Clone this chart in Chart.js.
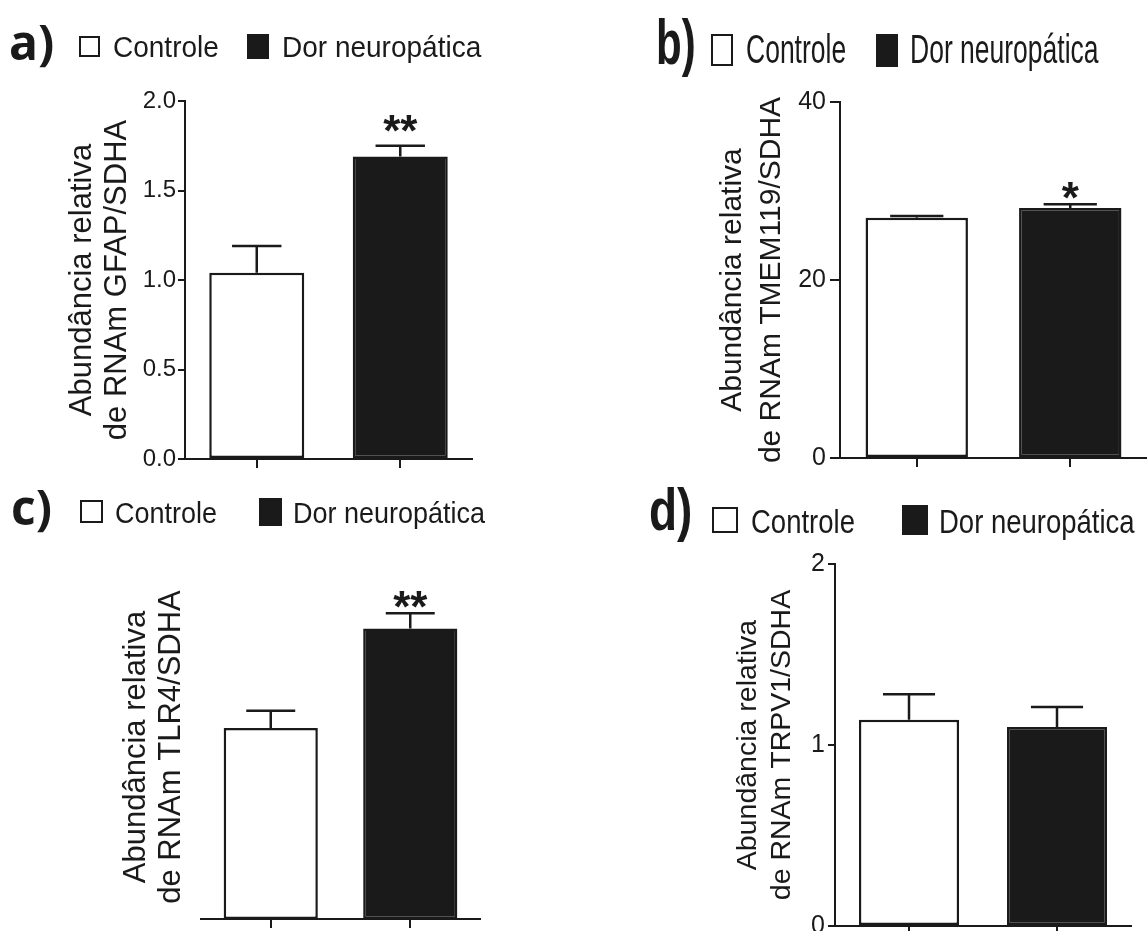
<!DOCTYPE html>
<html lang="pt">
<head>
<meta charset="utf-8">
<title>Abundância relativa de RNAm</title>
<script src="https://cdn.jsdelivr.net/npm/chart.js@4.4.1/dist/chart.umd.min.js"></script>
<style>
  html, body { margin: 0; padding: 0; background: #fff; }
  body { width: 1147px; height: 931px; overflow: hidden; position: relative; }
  canvas { position: absolute; }
</style>
</head>
<body>
<canvas id="chartA" width="560" height="480" style="left:0;top:0"></canvas>
<canvas id="chartB" width="567" height="480" style="left:580px;top:0"></canvas>
<canvas id="chartC" width="560" height="461" style="left:0;top:470px"></canvas>
<canvas id="chartD" width="567" height="480" style="left:580px;top:470px"></canvas>
<script>
// Grupos
const categories = ['Controle', 'Dor neuropática'];

// a) GFAP
const gfapMean = [1.04, 1.69];
const gfapSem = [0.15, 0.06];
const gfapSig = ['', '**'];
const gfapTicks = [0, 0.5, 1.0, 1.5, 2.0];

// b) TMEM119
const tmemMean = [27.0, 28.1];
const tmemSem = [0.2, 0.4];
const tmemSig = ['', '*'];
const tmemTicks = [0, 20, 40];

// c) TLR4 (sem escala visivel no original)
const tlrMean = [1.0, 1.52];
const tlrSem = [0.09, 0.08];
const tlrSig = ['', '**'];

// d) TRPV1
const trpvMean = [1.14, 1.10];
const trpvSem = [0.14, 0.11];
const trpvSig = ['', ''];
const trpvTicks = [0, 1, 2];

const INK = '#1a1a1a';
const SANS = '"Liberation Sans", Arial, sans-serif';

// Texto com esticamento vertical (os paineis originais estao deformados)
function stretchedText(ctx, text, x, y, font, sy) {
    ctx.save();
    ctx.font = font;
    ctx.translate(x, y);
    ctx.scale(1, sy);
    ctx.fillText(text, 0, 0);
    ctx.restore();
}

// Barras de erro (so para cima) + asteriscos
function errorBars(mean, sem, sig, gap) {
    return {
        id: 'errorBars',
        afterDatasetsDraw(chart) {
            const ctx = chart.ctx;
            const y = chart.scales.y;
            const meta = chart.getDatasetMeta(0);
            ctx.save();
            ctx.strokeStyle = INK;
            ctx.fillStyle = INK;
            ctx.lineWidth = 2.5;
            meta.data.forEach((bar, i) => {
                const top = y.getPixelForValue(mean[i] + sem[i]);
                const half = bar.width * 0.26;
                ctx.beginPath();
                ctx.moveTo(bar.x, bar.y);
                ctx.lineTo(bar.x, top);
                ctx.moveTo(bar.x - half, top);
                ctx.lineTo(bar.x + half, top);
                ctx.stroke();
                if (sig[i]) {
                    ctx.font = 'bold 44px ' + SANS;
                    ctx.textAlign = 'center';
                    ctx.textBaseline = 'alphabetic';
                    const m = ctx.measureText('*');
                    const cy = top - gap;
                    const base = cy + (m.actualBoundingBoxAscent - m.actualBoundingBoxDescent) / 2;
                    ctx.fillText(sig[i], bar.x, base);
                }
            });
            ctx.restore();
        }
    };
}

// Letra do painel + legenda
function decor(d) {
    return {
        id: 'decor',
        afterDraw(chart) {
            const ctx = chart.ctx;
            ctx.save();
            ctx.fillStyle = INK;
            ctx.textAlign = 'left';
            ctx.textBaseline = 'alphabetic';
            stretchedText(ctx, d.letter, d.letterX, d.letterY, d.letterFont, d.letterSy);
            ctx.lineWidth = 2;
            ctx.strokeStyle = INK;
            d.boxes.forEach((b, i) => {
                if (i === 0) {
                    ctx.fillStyle = '#fff';
                    ctx.fillRect(b[0], b[1], b[2], b[3]);
                    ctx.strokeRect(b[0] + 1, b[1] + 1, b[2] - 2, b[3] - 2);
                } else {
                    ctx.fillStyle = INK;
                    ctx.fillRect(b[0], b[1], b[2], b[3]);
                }
                ctx.fillStyle = INK;
                stretchedText(ctx, categories[i], d.textX[i], d.textY, d.textSize + 'px ' + SANS, d.textSy);
            });
            ctx.restore();
        }
    };
}

function buildPanel(id, p) {
    const ctx = document.getElementById(id).getContext('2d');
    new Chart(ctx, {
        type: 'bar',
        data: {
            labels: categories,
            datasets: [{
                data: p.mean,
                backgroundColor: ['#ffffff', INK],
                borderColor: INK,
                borderWidth: 2.5,
                borderSkipped: false,
                barPercentage: p.barPct,
                categoryPercentage: 1
            }]
        },
        options: {
            responsive: false,
            animation: false,
            devicePixelRatio: 1,
            layout: { padding: { left: 0, top: p.padTop, right: p.padRight, bottom: 0 } },
            plugins: {
                legend: { display: false },
                tooltip: { enabled: false }
            },
            scales: {
                x: {
                    grid: { display: true, drawOnChartArea: false, offset: false, color: INK, lineWidth: 2, tickLength: 9 },
                    border: { display: true, color: INK, width: 2 },
                    ticks: { display: false },
                    afterFit: s => { s.height = p.xHeight; }
                },
                y: {
                    min: 0,
                    max: p.yMax,
                    afterBuildTicks: s => {
                        if (p.ticks) s.ticks = p.ticks.map(v => ({ value: v }));
                    },
                    grid: { display: !!p.ticks, drawOnChartArea: false, color: INK, lineWidth: 2, tickLength: p.tickLen },
                    border: { display: !!p.ticks, color: INK, width: 2 },
                    ticks: {
                        display: !!p.ticks,
                        color: INK,
                        padding: p.tickPad,
                        font: { family: SANS, size: p.tickSize },
                        callback: v => p.fmt(v)
                    },
                    title: {
                        display: true,
                        text: p.title,
                        color: INK,
                        font: { family: SANS, size: p.titleSize, lineHeight: p.titleLH },
                        padding: { top: p.titlePad, bottom: 0 }
                    },
                    afterFit: s => { s.width = p.yWidth; }
                }
            }
        },
        plugins: [errorBars(p.mean, p.sem, p.sig, p.sigGap), decor(p.decor)]
    });
}

buildPanel('chartA', {
    mean: gfapMean, sem: gfapSem, sig: gfapSig, ticks: gfapTicks, yMax: 2,
    fmt: v => v.toFixed(1),
    title: ['Abundância relativa', 'de RNAm GFAP/SDHA'],
    barPct: 0.662, padTop: 101, padRight: 88, xHeight: 21, yWidth: 185,
    tickLen: 7, tickPad: 2, tickSize: 24,
    titleSize: 31, titleLH: 1.16, titlePad: 64, sigGap: 22,
    decor: {
        letter: 'a)', letterX: 9, letterY: 60, letterFont: 'bold 48px "Open Sans", sans-serif', letterSy: 1,
        boxes: [[79, 36, 21, 21], [247, 34, 22, 25]],
        textX: [113, 282], textY: 57, textSize: 28, textSy: 1.08
    }
});

buildPanel('chartB', {
    mean: tmemMean, sem: tmemSem, sig: tmemSig, ticks: tmemTicks, yMax: 40,
    fmt: v => String(v),
    title: ['Abundância relativa', 'de RNAm TMEM119/SDHA'],
    barPct: 0.667, padTop: 102, padRight: 0, xHeight: 22, yWidth: 260,
    tickLen: 10, tickPad: 4, tickSize: 25,
    titleSize: 30, titleLH: 1.3, titlePad: 133, sigGap: 14,
    decor: {
        letter: 'b)', letterX: 76, letterY: 64, letterFont: 'bold 42px ' + SANS, letterSy: 1.5,
        boxes: [[131, 34, 22, 32], [296, 34, 22, 33]],
        textX: [166, 330], textY: 63, textSize: 26.5, textSy: 1.5
    }
});

buildPanel('chartC', {
    mean: tlrMean, sem: tlrSem, sig: tlrSig, ticks: null, yMax: 1.8,
    fmt: v => String(v),
    title: ['Abundância relativa', 'de RNAm TLR4/SDHA'],
    barPct: 0.675, padTop: 105, padRight: 80, xHeight: 12, yWidth: 201,
    tickLen: 7, tickPad: 2, tickSize: 24,
    titleSize: 31, titleLH: 1.13, titlePad: 119, sigGap: 14,
    decor: {
        letter: 'c)', letterX: 11, letterY: 55, letterFont: 'bold 48px "Open Sans", sans-serif', letterSy: 1,
        boxes: [[80, 30, 23, 23], [259, 28, 23, 28]],
        textX: [115, 293], textY: 53, textSize: 27, textSy: 1.08
    }
});

buildPanel('chartD', {
    mean: trpvMean, sem: trpvSem, sig: trpvSig, ticks: trpvTicks, yMax: 2,
    fmt: v => String(v),
    title: ['Abundância relativa', 'de RNAm TRPV1/SDHA'],
    barPct: 0.677, padTop: 94, padRight: 16, xHeight: 24, yWidth: 255,
    tickLen: 7, tickPad: 3, tickSize: 25,
    titleSize: 28.5, titleLH: 1.19, titlePad: 151, sigGap: 14,
    decor: {
        letter: 'd)', letterX: 69, letterY: 60, letterFont: 'bold 46px ' + SANS, letterSy: 1.27,
        boxes: [[132, 37, 26, 26], [322, 35, 26, 30]],
        textX: [171, 359], textY: 63, textSize: 27.5, textSy: 1.2
    }
});
</script>
</body>
</html>
